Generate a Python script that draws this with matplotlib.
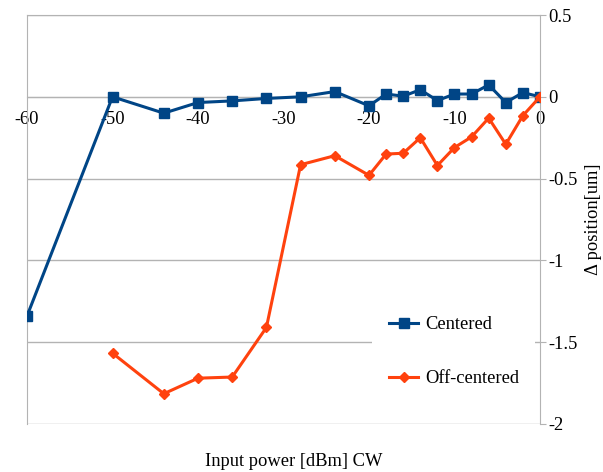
import matplotlib
matplotlib.use("Agg")
import matplotlib.pyplot as plt

plt.rcParams["font.family"] = ["Liberation Serif", "DejaVu Serif"]
plt.rcParams["axes.unicode_minus"] = False

BLUE = "#004586"
ORANGE = "#ff420e"
GRID = "#b3b3b3"
FS = 13.3

# input power [dBm]
power_c = [-60, -50, -44, -40, -36, -32, -28, -24, -20, -18, -16, -14, -12, -10, -8, -6, -4, -2, 0]
centered = [-1.34, 0.0, -0.10, -0.035, -0.025, -0.01, 0.0, 0.032, -0.055, 0.017, 0.004, 0.043,
            -0.023, 0.017, 0.017, 0.073, -0.035, 0.026, 0.0]
power_o = [-50, -44, -40, -36, -32, -28, -24, -20, -18, -16, -14, -12, -10, -8, -6, -4, -2, 0]
off_centered = [-1.567, -1.815, -1.72, -1.713, -1.41, -0.415, -0.36, -0.48, -0.35, -0.345, -0.25,
                -0.42, -0.31, -0.245, -0.13, -0.29, -0.115, 0.0]
xticks = [-60, -50, -40, -30, -20, -10, 0]
yticks = [-2, -1.5, -1, -0.5, 0, 0.5]
ytick_labels = ["-2", "-1.5", "-1", "-0.5", "0", "0.5"]

fig = plt.figure(figsize=(6.03, 4.72), dpi=100)
ax = fig.add_axes([0.0448, 0.1017, 0.8507, 0.8665])

ax.plot(power_c, centered, color=BLUE, lw=2.2, marker="s", ms=7.5, label="Centered", zorder=3)
ax.plot(power_o, off_centered, color=ORANGE, lw=2.2, marker="D", ms=5.5, label="Off-centered", zorder=3)

ax.set_xlim(-60, 0)
ax.set_ylim(-2, 0.5)
ax.set_xticks(xticks)
ax.set_yticks(yticks)
ax.set_yticklabels(ytick_labels)
ax.yaxis.tick_right()
ax.yaxis.set_label_position("right")
ax.grid(axis="y", color=GRID, lw=1)
ax.set_axisbelow(True)

for s in ["left", "right", "top"]:
    ax.spines[s].set_color(GRID)
ax.spines["bottom"].set_position(("data", 0))
ax.spines["bottom"].set_color(GRID)
ax.tick_params(axis="x", length=0, pad=10, labelsize=FS)
ax.tick_params(axis="y", length=4, color=GRID, pad=2, labelsize=FS)

ax.set_ylabel("Δ position[um]", fontsize=FS, labelpad=5)
ax.set_xlabel("Input power [dBm] CW", fontsize=FS)
ax.xaxis.set_label_coords(0.52, -0.072)

leg = ax.legend(loc="center left", bbox_to_anchor=(0.655, 0.037, 0.353, 0.28), mode="expand",
                frameon=True, framealpha=1, edgecolor="none", facecolor="white", fontsize=FS,
                labelspacing=2.0, handlelength=1.6, handletextpad=0.35, borderpad=0.9)
leg.get_frame().set_boxstyle("square", pad=0)

fig.savefig("out.png", dpi=100)
